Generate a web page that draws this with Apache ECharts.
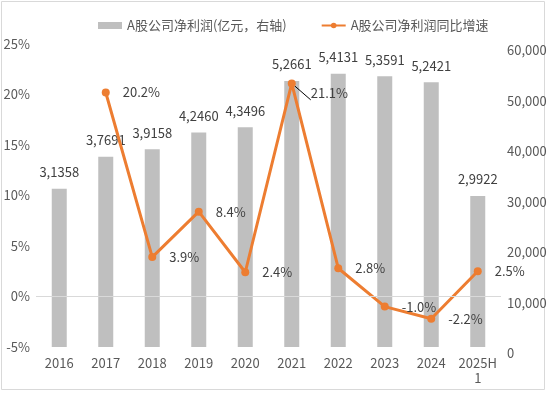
<!DOCTYPE html>
<html><head><meta charset="utf-8">
<script src="https://cdn.jsdelivr.net/npm/echarts@6/dist/echarts.min.js"></script>
<style>html,body{margin:0;padding:0;background:#fff}#c{width:550px;height:394px}</style>
</head><body><div id="c"></div>
<script>
const categories = ['2016','2017','2018','2019','2020','2021','2022','2023','2024','2025H1'];
const profit = [31358, 37691, 39158, 42460, 43496, 52661, 54131, 53591, 52421, 29922];
const growth = [null, 20.2, 3.9, 8.4, 2.4, 21.1, 2.8, -1.0, -2.2, 2.5];
const barName = 'A股公司净利润(亿元，右轴)';
const lineName = 'A股公司净利润同比增速';

const font = '"Noto Sans CJK SC", "Noto Sans", sans-serif';
const chart = echarts.init(document.getElementById('c'));
chart.setOption({
  animation: false,
  textStyle: { fontFamily: font },
  graphic: [{ type: 'rect', shape: { x: 1.5, y: 1.5, width: 543, height: 388 }, style: { fill: 'none', stroke: '#d9d9d9', lineWidth: 1 }, z: -1 }],
  legend: {
    top: 14, left: 93, itemGap: 34, itemWidth: 24, itemHeight: 7,
    textStyle: { color: '#595959', fontSize: 13, fontFamily: font },
    data: [{ name: barName, icon: 'rect' }, { name: lineName }]
  },
  grid: { left: 36, right: 49, top: 44, bottom: 47 },
  xAxis: {
    type: 'category', data: categories,
    axisLine: { show: false }, axisTick: { show: false },
    axisLabel: { color: '#595959', fontSize: 13, margin: 9, width: 42, overflow: 'breakAll', lineHeight: 15, interval: 0 }
  },
  yAxis: [
    { type: 'value', min: -5, max: 25, interval: 5, splitLine: { show: false }, axisLine: { show: false }, axisTick: { show: false },
      axisLabel: { color: '#595959', fontSize: 13, margin: 6, formatter: '{value}%' } },
    { type: 'value', min: 0, max: 60000, interval: 10000, splitLine: { show: false }, axisLine: { show: false }, axisTick: { show: false },
      axisLabel: { color: '#595959', fontSize: 13, margin: 6, verticalAlign: 'top',
        formatter: v => v.toLocaleString('en-US') } }
  ],
  series: [
    { type: 'line', yAxisIndex: 0, data: [], z: 1, silent: true,
      markLine: { silent: true, symbol: 'none', label: { show: false }, lineStyle: { color: '#d9d9d9', type: 'solid', width: 1 }, data: [{ yAxis: 0 }] } },
    { name: barName, type: 'bar', yAxisIndex: 1, data: profit, barWidth: 15, z: 2,
      itemStyle: { color: '#bfbfbf' },
      label: { show: true, position: 'top', distance: 10, color: '#404040', fontSize: 13,
        formatter: p => { const s = String(p.value); return s.slice(0, s.length - 4) + ',' + s.slice(-4); } } },
    { name: lineName, type: 'line', yAxisIndex: 0, z: 3,
      data: growth.map((v, i) => i === 5 ? { value: v, label: { offset: [2, 10] }, labelLine: { show: true, lineStyle: { color: '#000', width: 1 } } } : v),
      symbol: 'circle', symbolSize: 8, connectNulls: false,
      lineStyle: { color: '#ED7D31', width: 3 }, itemStyle: { color: '#ED7D31' },
      label: { show: true, position: 'right', distance: 13, color: '#404040', fontSize: 13, formatter: p => p.value.toFixed(1) + '%' } }
  ]
});
</script></body></html>
